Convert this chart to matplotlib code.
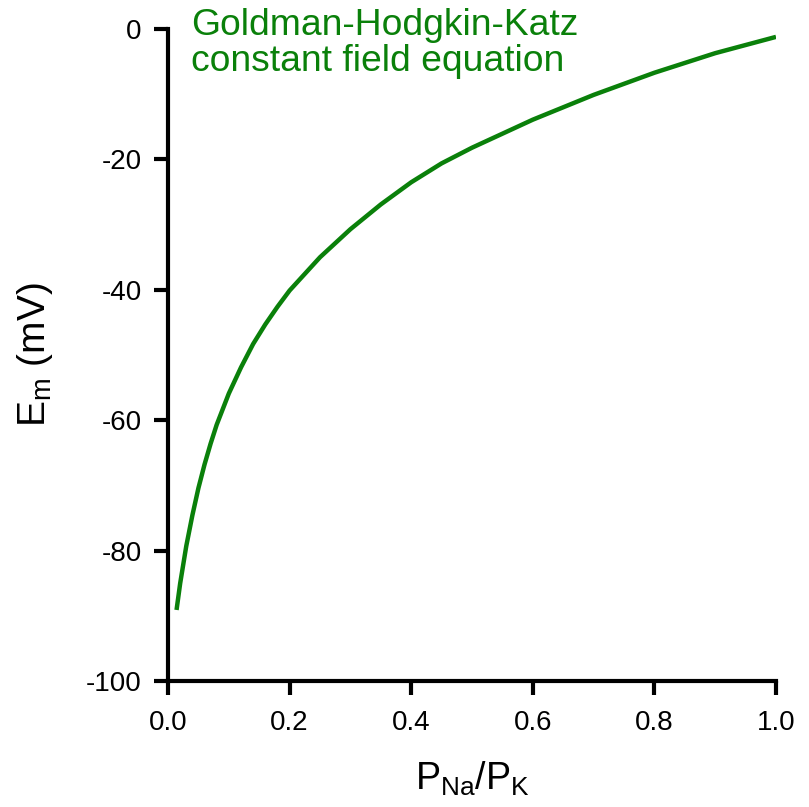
import matplotlib
matplotlib.use('Agg')
import matplotlib.pyplot as plt

plt.rcParams['font.family'] = ['Liberation Sans', 'DejaVu Sans']
plt.rcParams['mathtext.fontset'] = 'custom'
plt.rcParams['mathtext.rm'] = 'Liberation Sans'
plt.rcParams['mathtext.it'] = 'Liberation Sans'
plt.rcParams['axes.unicode_minus'] = False

# values (P_Na/P_K vs membrane potential)
p_ratio = [0.014, 0.02, 0.03, 0.04, 0.05, 0.06, 0.07, 0.08, 0.10, 0.12,
           0.14, 0.16, 0.18, 0.20, 0.25, 0.30, 0.35, 0.40, 0.45, 0.50,
           0.60, 0.70, 0.80, 0.90, 1.00]
em_mv = [-89.1, -85.0, -79.3, -74.6, -70.4, -66.8, -63.6, -60.7, -55.9, -51.9,
         -48.3, -45.3, -42.6, -40.1, -35.0, -30.7, -26.9, -23.5, -20.6, -18.2,
         -13.9, -10.1, -6.7, -3.7, -1.2]

x_ticks = [0.0, 0.2, 0.4, 0.6, 0.8, 1.0]
y_ticks = [-100, -80, -60, -40, -20, 0]

green = '#0a800a'

fig = plt.figure(figsize=(8.09, 8.07), dpi=100)
ax = fig.add_axes([0.2077, 0.1561, 0.7515, 0.8079])

ax.plot(p_ratio, em_mv, color=green, lw=3.2, solid_capstyle='butt',
        solid_joinstyle='round')

ax.set_xlim(0, 1.0)
ax.set_ylim(-100, 0)
ax.set_xticks(x_ticks)
ax.set_xticklabels(['%.1f' % v for v in x_ticks])
ax.set_yticks(y_ticks)

for s in ['top', 'right']:
    ax.spines[s].set_visible(False)
for s in ['left', 'bottom']:
    ax.spines[s].set_linewidth(3)
    ax.spines[s].set_capstyle('projecting')
ax.tick_params(direction='out', length=10, width=3, labelsize=20)
ax.tick_params(axis='x', pad=11)
ax.tick_params(axis='y', pad=9)

ax.set_xlabel(r'$\mathregular{P_{Na}/P_K}$', fontsize=27, labelpad=17)
ax.set_ylabel(r'$\mathregular{E_m}$ (mV)', fontsize=28, labelpad=22)

ax.text(0.038, 1.033, 'Goldman-Hodgkin-Katz\nconstant field equation',
        transform=ax.transAxes, color=green, fontsize=26.8, va='top', ha='left',
        linespacing=1.05)

fig.savefig('out.png', dpi=100)
